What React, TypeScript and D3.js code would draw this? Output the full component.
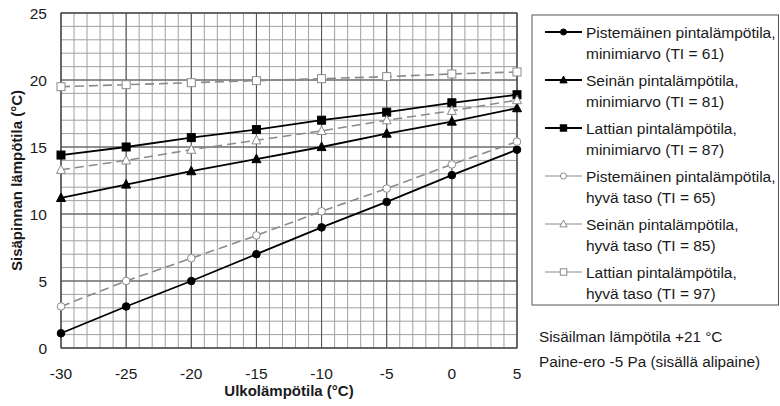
import React from 'react';
import * as d3 from 'd3';

const outdoorTemps = [-30, -25, -20, -15, -10, -5, 0, 5];

// minimiarvo series (solid, black)
const pointMin = [1.1, 3.1, 5.0, 7.0, 9.0, 10.9, 12.9, 14.8];
const wallMin = [11.2, 12.2, 13.2, 14.1, 15.0, 16.0, 16.9, 17.9];
const floorMin = [14.4, 15.0, 15.7, 16.3, 17.0, 17.6, 18.3, 18.9];
// hyvä taso series (dashed, gray, open markers)
const pointGood = [3.1, 5.0, 6.7, 8.4, 10.2, 11.9, 13.7, 15.4];
const wallGood = [13.3, 14.0, 14.8, 15.5, 16.2, 17.0, 17.7, 18.5];
const floorGood = [19.5, 19.65, 19.8, 19.95, 20.1, 20.25, 20.45, 20.6];

const xTicks = [-30, -25, -20, -15, -10, -5, 0, 5];
const yTicks = [0, 5, 10, 15, 20, 25];

const legendLabels = [
  ['Pistemäinen pintalämpötila,', 'minimiarvo (TI = 61)'],
  ['Seinän pintalämpötila,', 'minimiarvo (TI = 81)'],
  ['Lattian pintalämpötila,', 'minimiarvo (TI = 87)'],
  ['Pistemäinen pintalämpötila,', 'hyvä taso (TI = 65)'],
  ['Seinän pintalämpötila,', 'hyvä taso (TI = 85)'],
  ['Lattian pintalämpötila,', 'hyvä taso (TI = 97)'],
];
const notes = ['Sisäilman lämpötila +21 °C', 'Paine-ero -5 Pa (sisällä alipaine)'];

type Marker = 'circle' | 'triangle' | 'square';
const seriesList: { values: number[]; marker: Marker; good: boolean }[] = [
  { values: pointMin, marker: 'circle', good: false },
  { values: wallMin, marker: 'triangle', good: false },
  { values: floorMin, marker: 'square', good: false },
  { values: pointGood, marker: 'circle', good: true },
  { values: wallGood, marker: 'triangle', good: true },
  { values: floorGood, marker: 'square', good: true },
];

const FONT = '"Liberation Sans", Arial, sans-serif';
const W = 780;
const H = 406;
const plot = { left: 61, right: 517, top: 13, bottom: 348 };

const MarkerShape = ({ type, x, y, good, size = 1 }: { type: Marker; x: number; y: number; good: boolean; size?: number }) => {
  const fill = good ? '#ffffff' : '#000000';
  const stroke = good ? '#8a8a8a' : '#000000';
  if (type === 'circle') {
    return <circle cx={x} cy={y} r={3.8 * size} fill={fill} stroke={stroke} strokeWidth={1} />;
  }
  if (type === 'square') {
    const s = 8 * size;
    return <rect x={x - s / 2} y={y - s / 2} width={s} height={s} fill={fill} stroke={stroke} strokeWidth={1} />;
  }
  const s = 9 * size;
  const pts = `${x},${y - s * 0.55} ${x + s / 2},${y + s * 0.4} ${x - s / 2},${y + s * 0.4}`;
  return <polygon points={pts} fill={fill} stroke={stroke} strokeWidth={1} />;
};

export default function App() {
  const x = d3.scaleLinear().domain([-30, 5]).range([plot.left, plot.right]);
  const y = d3.scaleLinear().domain([0, 25]).range([plot.bottom, plot.top]);

  const minorX = d3.range(-30, 6, 1);
  const minorY = d3.range(0, 26, 1);

  const line = d3
    .line<number>()
    .x((_, i) => x(outdoorTemps[i]))
    .y((d) => y(d));

  const legendX = 532;
  const legendTop = 15;
  const entryGap = 48;

  return (
    <svg width={W} height={H} style={{ position: 'absolute', left: 0, top: 0, background: '#fff' }} fontFamily={FONT}>
      <rect x={0} y={0} width={W} height={H} fill="#fff" />
      {/* minor grid */}
      {minorX.map((v) => (
        <line key={'mx' + v} x1={x(v)} x2={x(v)} y1={plot.top} y2={plot.bottom} stroke="#a0a0a0" strokeWidth={1} />
      ))}
      {minorY.map((v) => (
        <line key={'my' + v} y1={y(v)} y2={y(v)} x1={plot.left} x2={plot.right} stroke="#a0a0a0" strokeWidth={1} />
      ))}
      {/* major grid */}
      {xTicks.map((v) => (
        <line key={'Mx' + v} x1={x(v)} x2={x(v)} y1={plot.top} y2={plot.bottom} stroke="#505050" strokeWidth={1} />
      ))}
      {yTicks.map((v) => (
        <line key={'My' + v} y1={y(v)} y2={y(v)} x1={plot.left} x2={plot.right} stroke="#505050" strokeWidth={1} />
      ))}
      <rect x={plot.left} y={plot.top} width={plot.right - plot.left} height={plot.bottom - plot.top} fill="none" stroke="#404040" strokeWidth={1} />

      {/* series */}
      {seriesList.map((s, i) => (
        <path
          key={'l' + i}
          d={line(s.values) || ''}
          fill="none"
          stroke={s.good ? '#8a8a8a' : '#000000'}
          strokeWidth={s.good ? 1.6 : 1.8}
          strokeDasharray={s.good ? '9,5' : undefined}
        />
      ))}
      {seriesList.map((s, i) =>
        s.values.map((v, j) => (
          <MarkerShape key={`m${i}-${j}`} type={s.marker} x={x(outdoorTemps[j])} y={y(v)} good={s.good} />
        ))
      )}

      {/* axes tick labels */}
      {xTicks.map((v) => (
        <text key={'tx' + v} x={x(v)} y={379} textAnchor="middle" fontSize={15.5} fill="#1a1a1a">
          {v}
        </text>
      ))}
      {yTicks.map((v) => (
        <text key={'ty' + v} x={47} y={y(v) + 5.5} textAnchor="end" fontSize={15.5} fill="#1a1a1a">
          {v}
        </text>
      ))}
      <text x={289} y={396} textAnchor="middle" fontSize={15} fontWeight="bold" fill="#1a1a1a">
        Ulkolämpötila (°C)
      </text>
      <text transform={`translate(22,${(plot.top + plot.bottom) / 2}) rotate(-90)`} textAnchor="middle" fontSize={15} fontWeight="bold" fill="#1a1a1a">
        Sisäpinnan lämpötila (°C)
      </text>

      {/* legend */}
      <rect x={legendX} y={legendTop} width={W - legendX - 1.5} height={290} fill="#fff" stroke="#555" strokeWidth={1} />
      {legendLabels.map((lbl, i) => {
        const s = seriesList[i];
        const cy = legendTop + 17 + i * entryGap;
        return (
          <g key={'lg' + i}>
            <line x1={545} x2={582} y1={cy} y2={cy} stroke={s.good ? '#8a8a8a' : '#000'} strokeWidth={s.good ? 1.2 : 1.8} />
            <MarkerShape type={s.marker} x={563.5} y={cy} good={s.good} size={0.8} />
            <text x={586} y={cy + 5.5} fontSize={15.5} fill="#1a1a1a">
              {lbl[0]}
            </text>
            <text x={586} y={cy + 26.5} fontSize={15.5} fill="#1a1a1a">
              {lbl[1]}
            </text>
          </g>
        );
      })}
      {notes.map((t, i) => (
        <text key={'n' + i} x={539} y={341.5 + i * 25.5} fontSize={15.3} fill="#1a1a1a">
          {t}
        </text>
      ))}
    </svg>
  );
}
